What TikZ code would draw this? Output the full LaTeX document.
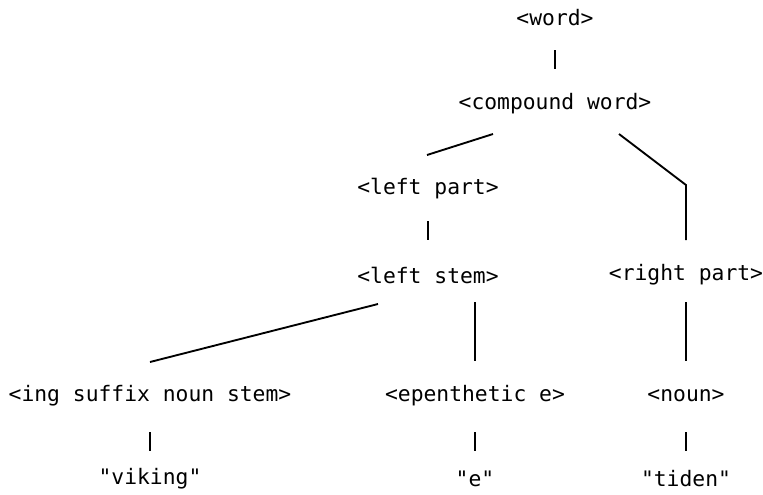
\documentclass[tikz,border=0pt]{standalone}
\usepackage{fontspec}
\setmonofont{DejaVu Sans Mono}

\tikzset{
    sym/.style={inner sep=0pt, font=\ttfamily\fontsize{16}{19}\selectfont},
    link/.style={line width=1.4pt}
}

\begin{document}
\begin{tikzpicture}[x=0.75pt, y=-0.75pt]
    \useasboundingbox (0,0) rectangle (763,494);

    % nonterminals
    \node[sym] (word) at (555,18) {<word>};
    \node[sym] (compound) at (555,104) {<compound word>};
    \node[sym] (leftpart) at (428,189) {<left part>};
    \node[sym] (leftstem) at (428,275) {<left stem>};
    \node[sym] (rightpart) at (686,275) {<right part>};
    \node[sym] (ingstem) at (150,396) {<ing suffix noun stem>};
    \node[sym] (epen) at (475,396) {<epenthetic e>};
    \node[sym] (noun) at (686,396) {<noun>};

    % terminals
    \node[sym] (viking) at (150,479) {"viking"};
    \node[sym] (e) at (475,479) {"e"};
    \node[sym] (tiden) at (686,479) {"tiden"};

    \draw[link] ([shift={(0,32)}]word.center) -- ([shift={(0,-35)}]compound.center);
    \draw[link] ([shift={(-62,30)}]compound.center) -- ([shift={(-1,-34)}]leftpart.center);
    \coordinate (bend) at ([shift={(0,-90)}]rightpart.center);
    \draw[link] ([shift={(64,30)}]compound.center) -- (bend) -- ([shift={(0,-35)}]rightpart.center);
    \draw[link] ([shift={(0,32)}]leftpart.center) -- ([shift={(0,-35)}]leftstem.center);

    \draw[link] ([shift={(-50,29)}]leftstem.center) -- ([shift={(0,-34)}]ingstem.center);
    \draw[link] ([shift={(47,27)}]leftstem.center) -- ([shift={(0,-35)}]epen.center);
    \draw[link] ([shift={(0,27)}]rightpart.center) -- ([shift={(0,-35)}]noun.center);

    \draw[link] ([shift={(0,36)}]ingstem.center) -- ([shift={(0,-28)}]viking.center);
    \draw[link] ([shift={(0,36)}]epen.center) -- ([shift={(0,-28)}]e.center);
    \draw[link] ([shift={(0,36)}]noun.center) -- ([shift={(0,-28)}]tiden.center);
\end{tikzpicture}
\end{document}
